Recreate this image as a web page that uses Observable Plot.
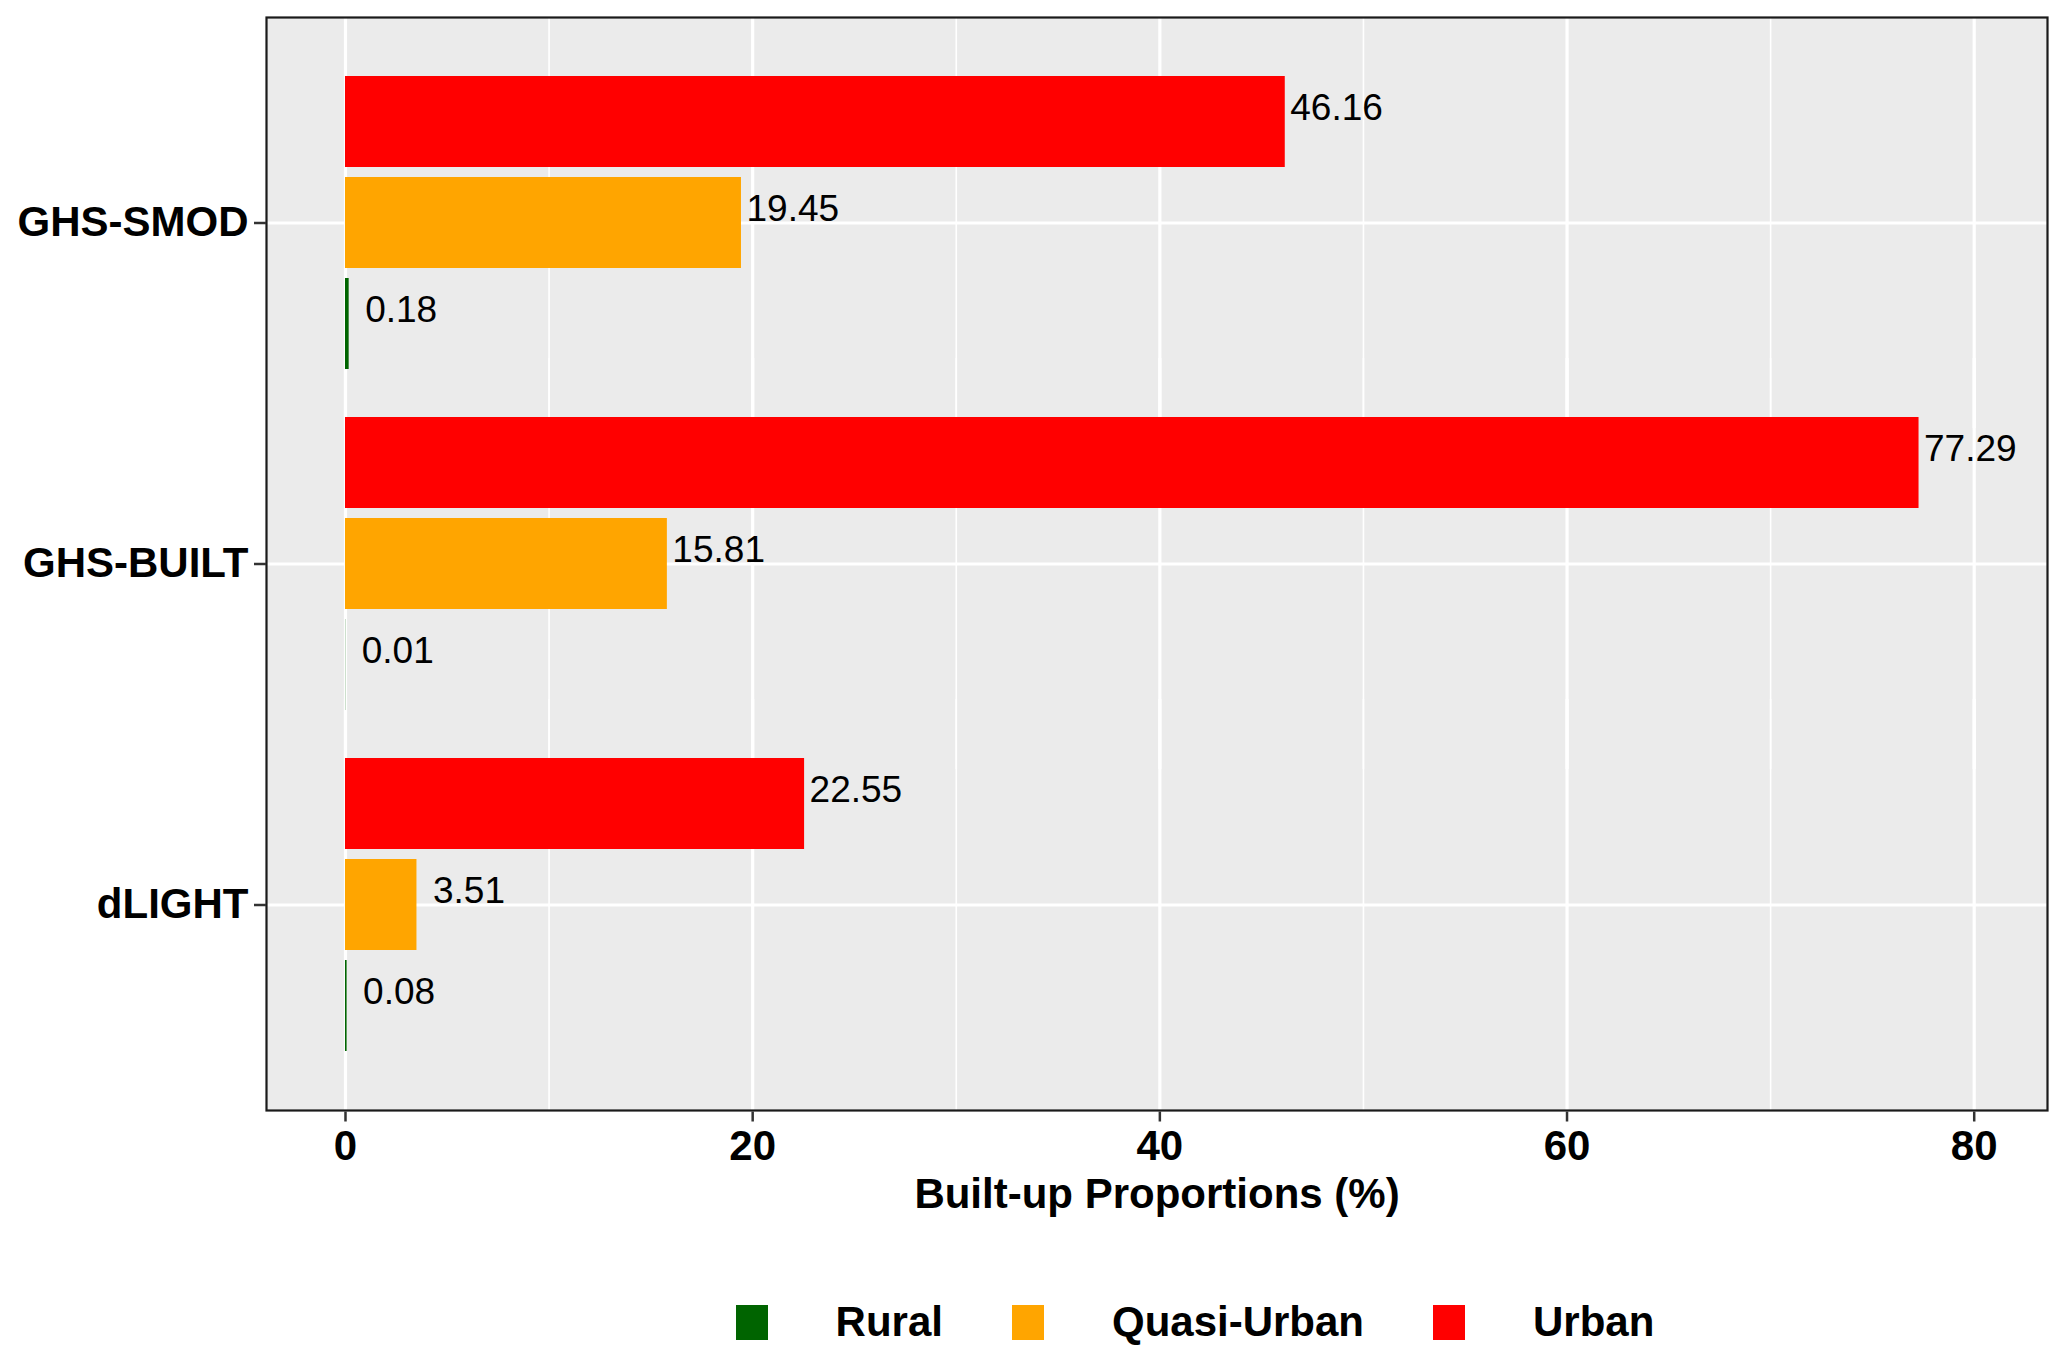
<!DOCTYPE html>
<html><head><meta charset="utf-8">
<script src="https://cdn.jsdelivr.net/npm/d3@7"></script>
<script src="https://cdn.jsdelivr.net/npm/@observablehq/plot@0.6"></script>
<style>
body{margin:0;background:#fff;font-family:"Liberation Sans",Arial,sans-serif;}
#legend{display:flex;justify-content:center;align-items:center;margin-top:57px;height:50px;padding-left:392px;}
.item{display:flex;align-items:center;margin-right:69px;}
.sw{width:32px;height:35px;margin-right:68px;}
.lab{font-size:42px;font-weight:bold;color:#000;}
</style></head><body>
<div id="chart"></div>
<div id="legend"></div>
<script>
const datasets = ["GHS-SMOD", "GHS-BUILT", "dLIGHT"];
const classes = ["Urban", "Quasi-Urban", "Rural"];
const legendOrder = ["Rural", "Quasi-Urban", "Urban"];
const classColors = ["#006400", "#FFA500", "#FF0000"];
const urbanValues = [46.16, 77.29, 22.55];
const quasiUrbanValues = [19.45, 15.81, 3.51];
const ruralValues = [0.18, 0.01, 0.08];
const xTicks = [0, 20, 40, 60, 80];
const xMinorTicks = [10, 30, 50, 70];
const xTitle = "Built-up Proportions (%)";

const data = datasets.flatMap((d, i) => [
  {dataset: d, cls: "Urban", value: urbanValues[i]},
  {dataset: d, cls: "Quasi-Urban", value: quasiUrbanValues[i]},
  {dataset: d, cls: "Rural", value: ruralValues[i]}
]);

const outer = 35; // ggplot panel expansion beyond the outer facets
const tickSymbol = {draw(context) { context.moveTo(0, -5); context.lineTo(0, 5); }};

const chart = Plot.plot({
  width: 2067,
  height: 1240,
  marginLeft: 266,
  marginRight: 20,
  marginTop: 17,
  marginBottom: 113,
  style: {fontFamily: "'Liberation Sans', Arial, sans-serif", background: "white"},
  x: {domain: [-3.88, 83.6]},
  fy: {domain: datasets, paddingInner: 0, paddingOuter: 0.1233, align: 0.406},
  y: {domain: classes, paddingInner: 0.1, paddingOuter: 0.226, axis: null},
  color: {domain: legendOrder, range: classColors},
  marks: [
    Plot.frame({facet: "super", fill: "#EBEBEB", stroke: null, insetTop: -outer, insetBottom: -outer}),
    Plot.ruleX(xMinorTicks, {x: d => d, stroke: "white", strokeWidth: 1.6, insetTop: -outer, insetBottom: -outer}),
    Plot.ruleX(xTicks, {x: d => d, stroke: "white", strokeWidth: 3.2, insetTop: -outer, insetBottom: -outer}),
    Plot.ruleY(["Quasi-Urban"], {y: d => d, stroke: "white", strokeWidth: 3.2}),
    Plot.barX(data, {fy: "dataset", y: "cls", x: "value", fill: "cls"}),
    Plot.text(data.filter(d => d.value >= 5), {fy: "dataset", y: "cls", x: "value", text: d => d.value.toFixed(2), textAnchor: "start", dx: 5, dy: -14, fontSize: 37, fill: "black"}),
    Plot.text(data.filter(d => d.value < 5), {fy: "dataset", y: "cls", x: "value", text: d => d.value.toFixed(2), textAnchor: "start", dx: 16, dy: -14, fontSize: 37, fill: "black"}),
    Plot.frame({facet: "super", stroke: "#1a1a1a", strokeWidth: 2.2, fill: "none", insetTop: -outer, insetBottom: -outer}),
    Plot.axisFy({anchor: "left", tickSize: 12, tickPadding: 6, fontSize: 42, fontWeight: "bold", stroke: "#333", strokeWidth: 2.5, fill: "black", label: null}),
    Plot.dot(xTicks, {x: d => d, frameAnchor: "bottom", facetAnchor: "bottom", dy: outer + 6, symbol: tickSymbol, r: 5, fill: "none", stroke: "#333", strokeWidth: 2.5}),
    Plot.axisX({anchor: "bottom", ticks: xTicks, tickSize: 0, tickPadding: 20, fontSize: 42, fontWeight: "bold", fill: "black", label: null, dy: outer}),
    Plot.text([xTitle], {facet: "super", text: d => d, frameAnchor: "bottom", dy: 132, fontSize: 42, fontWeight: "bold", fill: "black"})
  ]
});
document.getElementById("chart").appendChild(chart);

const legend = document.getElementById("legend");
legendOrder.forEach((c, i) => {
  const item = document.createElement("div");
  item.className = "item";
  const sw = document.createElement("div");
  sw.className = "sw";
  sw.style.background = classColors[i];
  const lab = document.createElement("span");
  lab.className = "lab";
  lab.textContent = c;
  item.appendChild(sw);
  item.appendChild(lab);
  legend.appendChild(item);
});
</script>
</body></html>
